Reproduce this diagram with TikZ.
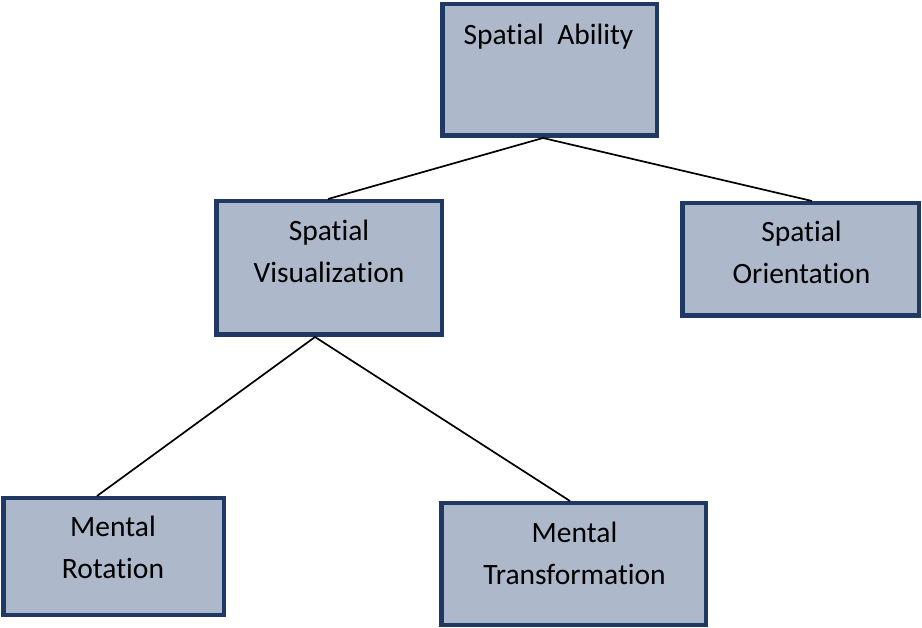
\documentclass[tikz,border=0pt]{standalone}
\usepackage{fontspec}
\setmainfont{Carlito}[Ligatures=CommonOff]
\definecolor{boxfill}{HTML}{ADB9CA}
\definecolor{boxline}{HTML}{1F3864}
\begin{document}
\begin{tikzpicture}[x=1pt,y=-1pt,
	box/.style={draw=boxline,fill=boxfill,line width=4.5pt,rectangle,inner sep=0pt},
	lbl/.style={align=center,anchor=base,inner sep=0pt,font=\fontsize{29.5}{42}\selectfont},
	link/.style={line width=1.7pt}]
			\useasboundingbox (0,0) rectangle (922,628);
			
			\node[box,minimum width=214.5pt,minimum height=131.5pt] (ability) at (549.5,70) {};
			\node[box,minimum width=225.5pt,minimum height=133.5pt] (visual) at (329,268) {};
			\node[box,minimum width=236.5pt,minimum height=112.5pt] (orient) at (800.5,259.5) {};
			\node[box,minimum width=220.5pt,minimum height=116.5pt] (rotation) at (113.5,556.5) {};
			\node[box,minimum width=264.5pt,minimum height=121.5pt] (transform) at (573.5,564) {};
			
			\node[lbl] (abilitytext) at (548.5,45) {Spatial\ \ Ability};
			\node[lbl] (visualtext) at (329,283) {Spatial\\Visualization};
			\node[lbl] (orienttext) at (801.5,284) {Spatial\\Orientation};
			\node[lbl] (rotationtext) at (113,578) {Mental\\Rotation};
			\node[lbl] (transformtext) at (574.5,584) {Mental\\Transformation};
			
			\draw[link] ([xshift=-6.5pt]ability.south) -- ([xshift=-1pt]visual.north);
			\draw[link] ([xshift=-6.5pt]ability.south) -- ([xshift=11.5pt]orient.north);
			\draw[link] ([xshift=-14pt]visual.south) -- ([xshift=-16.5pt]rotation.north);
			\draw[link] ([xshift=-14pt]visual.south) -- ([xshift=-3.5pt]transform.north);
		\end{tikzpicture}
\end{document}
